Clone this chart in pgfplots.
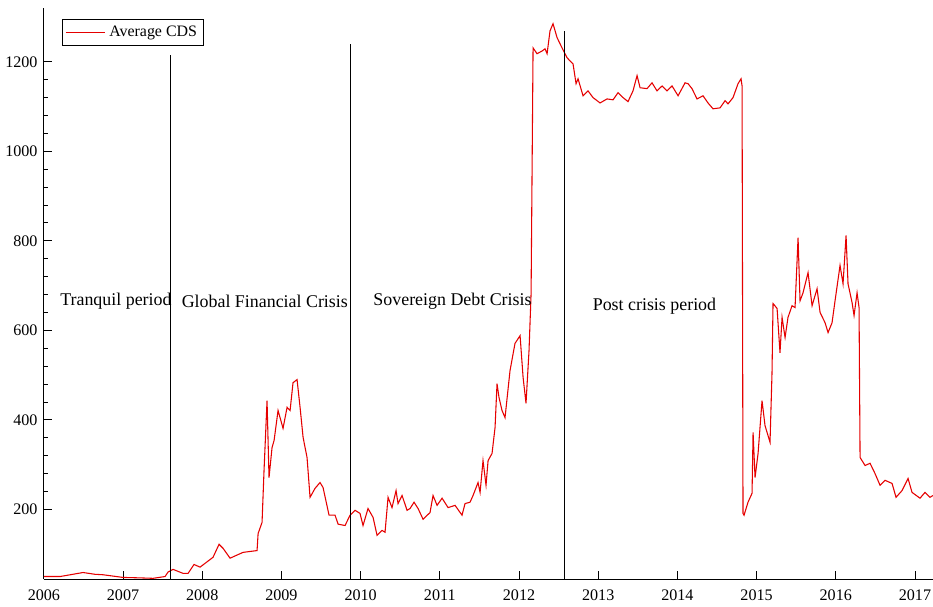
\documentclass[border=0pt]{standalone}
\usepackage{fontspec}
\setmainfont{Liberation Serif}
\usepackage{pgfplots}
\pgfplotsset{compat=1.18}

\begin{document}
\begin{tikzpicture}
\begin{axis}[
    name=ax,
    scale only axis,
    width=496.6pt, height=319pt,
    axis lines*=left,
    xmin=2006, xmax=2017.227,
    ymin=44, ymax=1320,
    xtick={2006,2007,...,2017},
    ytick={200,400,...,1200},
    minor x tick num=11,
    minor y tick num=4,
    tick align=inside,
    major tick length=4.5pt,
    minor tick length=2.3pt,
    tick style={black, line width=0.5pt},
    axis line style={black, line width=0.5pt},
    /pgf/number format/1000 sep={},
    /pgf/number format/assume math mode=true,
    ticklabel style={font=\fontsize{9}{10}\selectfont},
    x tick label style={yshift=-2.5pt},
    legend style={at={(0.0205,0.981)}, anchor=north west, draw=black,
        line width=0.5pt, font=\fontsize{8.9}{10}\selectfont,
        inner sep=1.5pt, row sep=0pt},
    legend image code/.code={\draw[#1] (0pt,0pt) -- (22pt,0pt);},
    clip=false,
]
\addplot[red!90!black, line width=0.6pt] coordinates {
(2006.000,50) (2006.205,50) (2006.495,59) (2006.646,55) (2006.747,54)
(2007.000,48) (2007.215,47) (2007.379,46) (2007.530,50) (2007.568,60)
(2007.631,66) (2007.758,57) (2007.821,57) (2007.896,77) (2007.972,71)
(2008.136,93) (2008.212,122) (2008.263,113) (2008.351,91) (2008.515,104)
(2008.692,108) (2008.705,146) (2008.755,171) (2008.780,287) (2008.818,443)
(2008.843,271) (2008.881,338) (2008.907,354) (2008.957,421) (2009.020,381)
(2009.071,428) (2009.109,421) (2009.146,483) (2009.197,490) (2009.235,428)
(2009.273,361) (2009.323,316) (2009.361,227) (2009.424,247) (2009.487,260)
(2009.525,249) (2009.601,187) (2009.677,187) (2009.715,167) (2009.803,164)
(2009.866,187) (2009.929,198) (2009.992,191) (2010.030,164) (2010.093,202)
(2010.157,182) (2010.207,142) (2010.270,153) (2010.308,149) (2010.346,227)
(2010.396,204) (2010.447,242) (2010.472,213) (2010.523,231) (2010.586,198)
(2010.624,202) (2010.674,216) (2010.725,202) (2010.788,178) (2010.876,193)
(2010.914,231) (2010.965,209) (2011.028,225) (2011.104,204) (2011.192,209)
(2011.280,187) (2011.318,213) (2011.381,216) (2011.419,231) (2011.482,260)
(2011.508,238) (2011.545,309) (2011.583,254) (2011.609,309) (2011.659,325)
(2011.697,383) (2011.722,481) (2011.747,450) (2011.785,421) (2011.823,405)
(2011.886,510) (2011.949,571) (2012.013,588) (2012.051,495) (2012.088,437)
(2012.126,555) (2012.152,682) (2012.177,1231) (2012.227,1218) (2012.290,1224)
(2012.328,1229) (2012.354,1218) (2012.391,1269) (2012.429,1285) (2012.480,1254)
(2012.543,1231) (2012.606,1209) (2012.682,1195) (2012.720,1151) (2012.745,1162)
(2012.808,1124) (2012.871,1135) (2012.934,1120) (2013.023,1108) (2013.111,1117)
(2013.187,1115) (2013.250,1131) (2013.313,1120) (2013.376,1111) (2013.439,1135)
(2013.490,1169) (2013.528,1142) (2013.616,1140) (2013.679,1153) (2013.742,1135)
(2013.806,1146) (2013.869,1135) (2013.932,1146) (2014.008,1124) (2014.096,1153)
(2014.134,1151) (2014.184,1140) (2014.247,1117) (2014.323,1124) (2014.386,1108)
(2014.449,1095) (2014.538,1097) (2014.601,1113) (2014.639,1106) (2014.702,1120)
(2014.765,1151) (2014.803,1162) (2014.816,1146) (2014.828,191) (2014.841,187)
(2014.891,216) (2014.942,236) (2014.955,372) (2014.980,271) (2015.018,325)
(2015.068,443) (2015.106,387) (2015.169,350) (2015.194,504) (2015.207,660)
(2015.258,649) (2015.295,550) (2015.321,629) (2015.359,584) (2015.396,629)
(2015.447,655) (2015.485,651) (2015.523,807) (2015.548,666) (2015.586,684)
(2015.649,729) (2015.700,655) (2015.763,693) (2015.801,640) (2015.864,617)
(2015.902,595) (2015.952,617) (2015.990,666) (2016.053,745) (2016.091,704)
(2016.129,812) (2016.154,704) (2016.205,662) (2016.230,633) (2016.268,684)
(2016.293,651) (2016.306,316) (2016.369,298) (2016.432,303) (2016.495,280)
(2016.558,254) (2016.621,265) (2016.710,258) (2016.760,227) (2016.836,242)
(2016.912,269) (2016.962,238) (2017.063,225) (2017.126,238) (2017.189,227)
(2017.227,231)
};
\addlegendentry{Average CDS}
\addplot[black, line width=0.5pt, forget plot] coordinates {(2007.595,44) (2007.595,1216)};
\addplot[black, line width=0.5pt, forget plot] coordinates {(2009.866,44) (2009.866,1240)};
\addplot[black, line width=0.5pt, forget plot] coordinates {(2012.570,44) (2012.570,1269)};
\node at (axis cs:2006.91,666) {Tranquil period};
\node at (axis cs:2008.79,664) {Global Financial Crisis};
\node at (axis cs:2011.16,664) {Sovereign Debt Crisis};
\node at (axis cs:2013.71,653) {Post crisis period};
\end{axis}
\pgfresetboundingbox
\path (ax.south west) ++(-24.5pt,-15.1pt) coordinate (bl);
\path (ax.north east) ++(0pt,4.5pt) coordinate (tr);
\path[use as bounding box] (bl) rectangle (tr);
\end{tikzpicture}
\end{document}
